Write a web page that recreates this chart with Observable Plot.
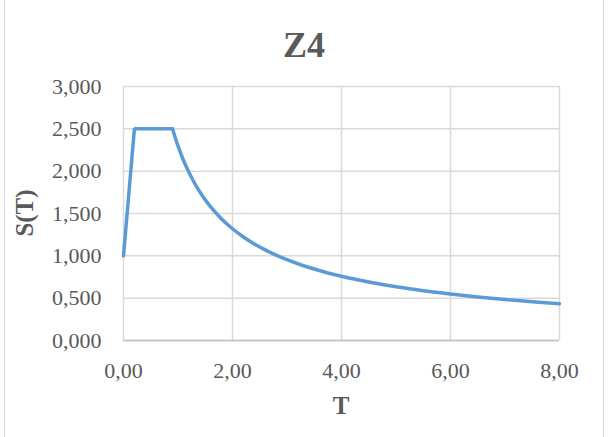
<!DOCTYPE html>
<html>
<head>
<meta charset="utf-8">
<script src="https://cdn.jsdelivr.net/npm/d3@7"></script>
<script src="https://cdn.jsdelivr.net/npm/@observablehq/plot@0.6"></script>
<style>
  html, body { margin: 0; padding: 0; background: #fff; }
  #wrap { position: relative; width: 608px; height: 437px; overflow: hidden; }
  #frame { position: absolute; left: 4px; top: -2px; width: 600px; height: 445px;
           border-left: 1.5px solid #d9d9d9; border-right: 1.5px solid #d9d9d9; box-sizing: border-box; }
  .lbl { position: absolute; font-family: "Liberation Serif", "Times New Roman", serif; color: #595959;
         font-weight: bold; white-space: nowrap; transform: translate(-50%, -50%); }
  #chart { position: absolute; left: 0; top: 0; }
</style>
</head>
<body>
<div id="wrap">
  <div id="frame"></div>
  <div id="chart"></div>
  <div class="lbl" id="title" style="left:304px; top:45px; font-size:36px;">Z4</div>
  <div class="lbl" id="xlabel" style="left:341px; top:406px; font-size:25px;">T</div>
  <div class="lbl" id="ylabel" style="left:25px; top:213px; font-size:25px; transform: translate(-50%, -50%) rotate(-90deg);">S(T)</div>
</div>
<script>
const T = [0, 0.2, 0.9, 1.0, 1.1, 1.2, 1.3, 1.4, 1.5, 1.6, 1.8, 2.0, 2.2, 2.4, 2.6, 2.8, 3.0, 3.25, 3.5, 3.75, 4.0, 4.5, 5.0, 5.5, 6.0, 6.5, 7.0, 7.5, 8.0];
const S = [1.0, 2.5, 2.5, 2.298, 2.129, 1.986, 1.863, 1.756, 1.661, 1.578, 1.436, 1.320, 1.223, 1.141, 1.070, 1.008, 0.954, 0.895, 0.844, 0.798, 0.758, 0.690, 0.634, 0.588, 0.548, 0.514, 0.484, 0.459, 0.435];
const xTicks = [0, 2, 4, 6, 8];
const yTicks = [0, 0.5, 1.0, 1.5, 2.0, 2.5, 3.0];

const data = T.map((t, i) => ({T: t, S: S[i]}));
const rise = data.slice(0, 3);    // straight ramp and plateau
const decay = data.slice(2);      // smooth descending branch
const fmtX = d => d.toFixed(2).replace(".", ",");
const fmtY = d => d.toFixed(3).replace(".", ",");

const plot = Plot.plot({
  width: 608,
  height: 437,
  marginTop: 86,
  marginBottom: 97,
  marginLeft: 123,
  marginRight: 49,
  style: { fontFamily: "'Liberation Serif', 'Times New Roman', serif", fontSize: "22px", color: "#595959", background: "transparent", overflow: "visible" },
  x: { domain: [0, 8], ticks: xTicks },
  y: { domain: [0, 3], ticks: yTicks },
  marks: [
    Plot.gridY(yTicks, { stroke: "#d9d9d9", strokeOpacity: 1, strokeWidth: 1.5 }),
    Plot.gridX(xTicks, { stroke: "#d9d9d9", strokeOpacity: 1, strokeWidth: 1.5 }),
    Plot.ruleY([0], { stroke: "#bfbfbf", strokeWidth: 1.5 }),
    Plot.axisX(xTicks, { tickSize: 0, tickPadding: 22, tickFormat: fmtX, label: null, fill: "#595959" }),
    Plot.axisY(yTicks, { tickSize: 0, tickPadding: 22, tickFormat: fmtY, label: null, fill: "#595959" }),
    Plot.line(rise, { x: "T", y: "S", stroke: "#5b9bd5", strokeWidth: 3.5, strokeLinejoin: "miter", curve: "linear" }),
    Plot.line(decay, { x: "T", y: "S", stroke: "#5b9bd5", strokeWidth: 3.5, strokeLinejoin: "round", curve: "monotone-x" })
  ]
});
document.getElementById("chart").appendChild(plot);
</script>
</body>
</html>
